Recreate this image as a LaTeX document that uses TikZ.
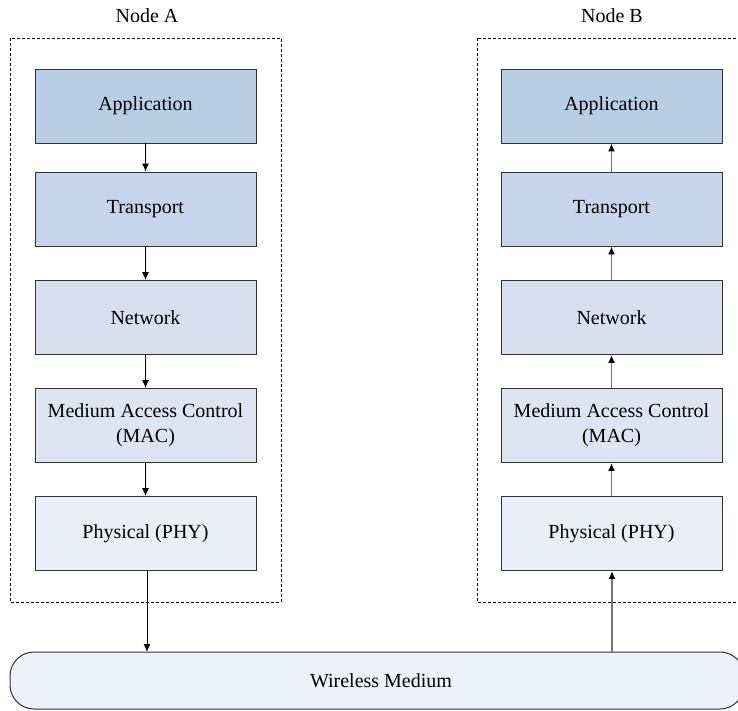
\documentclass[tikz,border=0pt]{standalone}
\usepackage{fontspec}
\setmainfont{Liberation Serif}
\usetikzlibrary{arrows.meta}
\definecolor{appcol}{HTML}{B9CDE5}
\definecolor{trancol}{HTML}{C6D5EA}
\definecolor{netcol}{HTML}{D6E0EF}
\definecolor{maccol}{HTML}{DCE5F1}
\definecolor{phycol}{HTML}{E9EEF7}
\definecolor{medcol}{HTML}{EDF1F9}
\definecolor{edgecol}{HTML}{333333}
\tikzset{
  layer/.style={draw=edgecol,line width=0.45pt,minimum width=110.5pt,minimum height=37pt,align=center,font=\fontsize{10}{12.5}\selectfont},
  frame/.style={draw=black,line width=0.45pt,dash pattern=on 1.5pt off 1pt},
  down/.style={-{Latex[length=4pt,width=3.5pt]},line width=0.5pt},
  up/.style={-{Latex[length=4pt,width=3.5pt,color=black]},draw=black!55,line width=0.9pt}
}
\begin{document}
\begin{tikzpicture}[x=0.5pt,y=-0.5pt]
\useasboundingbox (0,0) rectangle (738,711);
\clip (0,0) rectangle (738,711);
\draw[frame] (10,38) rectangle (281,602);
\draw[frame] (477,38) rectangle (760,602);
\node (labA) at (147,16) {Node A};
\node (labB) at (612,16) {Node B};
% node A stack
\node[layer,fill=appcol] (appA) at (145.5,106) {Application};
\node[layer,fill=trancol] (tranA) at (145.5,209) {Transport};
\node[layer,fill=netcol] (netA) at (145.5,317.5) {Network};
\node[layer,fill=maccol] (macA) at (145.5,425.5) {Medium Access Control\\(MAC)};
\node[layer,fill=phycol] (phyA) at (145.5,533.5) {Physical (PHY)};
% node B stack
\node[layer,fill=appcol] (appB) at (611.5,106) {Application};
\node[layer,fill=trancol] (tranB) at (611.5,209) {Transport};
\node[layer,fill=netcol] (netB) at (611.5,317.5) {Network};
\node[layer,fill=maccol] (macB) at (611.5,425.5) {Medium Access Control\\(MAC)};
\node[layer,fill=phycol] (phyB) at (611.5,533.5) {Physical (PHY)};
% medium
\draw[draw=edgecol,line width=0.5pt,fill=medcol,rounded corners=12pt] (10,652) rectangle (744,709);
\node[font=\fontsize{10}{12}\selectfont] (medium) at (381,681) {Wireless Medium};
\coordinate (inA) at (147,652);
\coordinate (inB) at (612,652);
\draw[down] (appA) -- (tranA);
\draw[down] (tranA) -- (netA);
\draw[down] (netA) -- (macA);
\draw[down] (macA) -- (phyA);
\draw[down] (phyA.south -| inA) -- (inA);
\draw[up] (inB) -- (phyB.south -| inB);
\draw[up] (phyB) -- (macB);
\draw[up] (macB) -- (netB);
\draw[up] (netB) -- (tranB);
\draw[up] (tranB) -- (appB);
\end{tikzpicture}
\end{document}
